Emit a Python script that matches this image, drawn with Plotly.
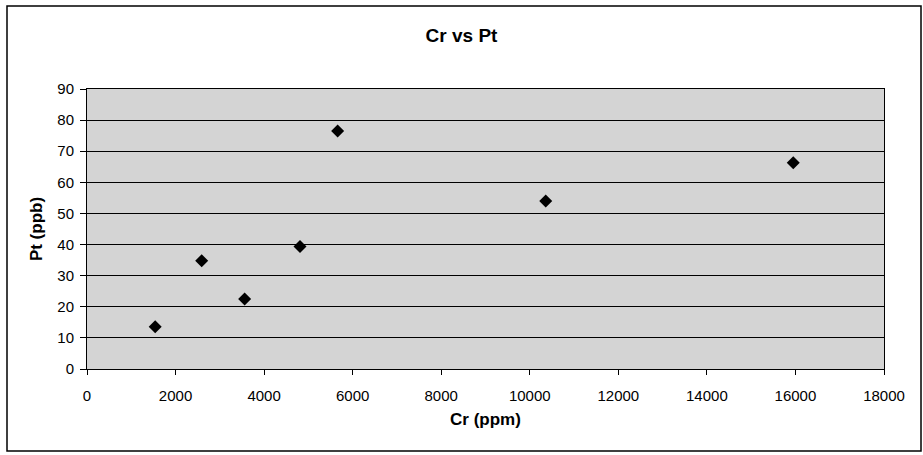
import plotly.graph_objects as go

cr_ppm = [1540, 2590, 3560, 4810, 5660, 10360, 15950]
pt_ppb = [13.6, 34.8, 22.5, 39.4, 76.5, 54.0, 66.3]
x_ticks = [0, 2000, 4000, 6000, 8000, 10000, 12000, 14000, 16000, 18000]
y_ticks = [0, 10, 20, 30, 40, 50, 60, 70, 80, 90]

W, H = 923, 455
L, R, T, B = 87, 39, 89, 86
pw, ph = W - L - R, H - T - B

def px(xpix):
    return (xpix - L) / pw

def py(ypix):
    return (H - B - ypix) / ph

fig = go.Figure()
fig.add_trace(go.Scatter(
    x=cr_ppm, y=pt_ppb, mode="markers",
    marker=dict(symbol="diamond", size=10, color="black"),
    showlegend=False,
))

font = "Liberation Sans, Arial, sans-serif"
fig.update_layout(
    width=W, height=H,
    margin=dict(l=L, r=R, t=T, b=B),
    paper_bgcolor="white",
    plot_bgcolor="#d4d4d4",
    font=dict(family=font, size=15, color="black"),
    title=dict(text="<b>Cr vs Pt</b>", x=0.5, xref="container", xanchor="center",
               y=1 - 35 / H, yref="container", yanchor="middle",
               font=dict(size=19, family=font, color="black")),
    xaxis=dict(
        range=[0, 18000], tickvals=x_ticks, ticktext=[str(v) for v in x_ticks],
        showgrid=False, zeroline=False, showline=True, linecolor="black", linewidth=1,
        mirror=True, ticks="outside", ticklen=5, tickcolor="black",
        ticklabelstandoff=8,
        title=dict(text="<b>Cr (ppm)</b>", standoff=10, font=dict(size=17)),
    ),
    yaxis=dict(
        range=[0, 90], tickvals=y_ticks, ticktext=[str(v) for v in y_ticks],
        showgrid=True, gridcolor="black", gridwidth=1, zeroline=False,
        showline=True, linecolor="black", linewidth=1, mirror=True,
        ticks="outside", ticklen=6, tickcolor="black",
        ticklabelstandoff=3,
        title=dict(text="<b>Pt (ppb)</b>", standoff=10, font=dict(size=17)),
    ),
    shapes=[dict(type="rect", xref="paper", yref="paper",
                 x0=px(7), x1=px(921), y0=py(451), y1=py(6),
                 line=dict(color="black", width=1.5), fillcolor="rgba(0,0,0,0)")],
)

fig.write_html("out.html")
